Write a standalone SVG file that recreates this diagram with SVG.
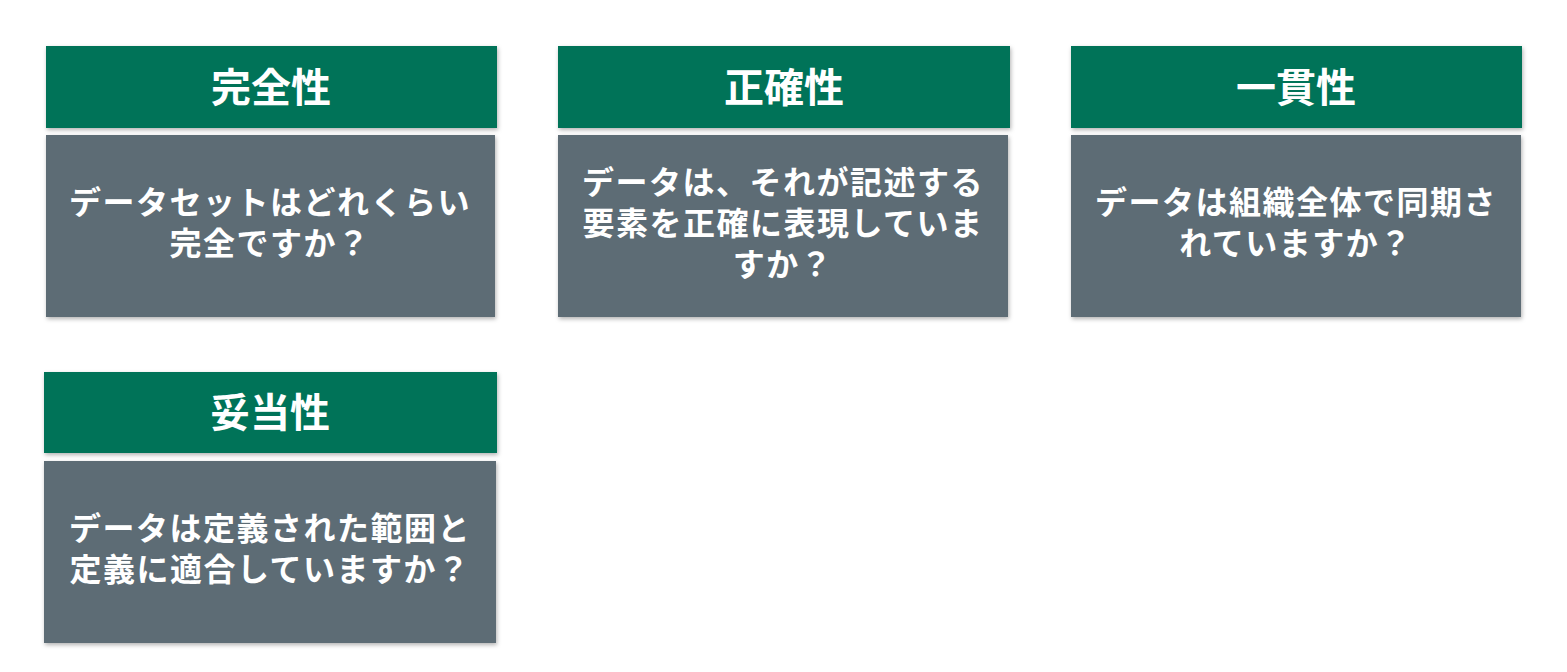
<svg xmlns="http://www.w3.org/2000/svg" width="1567" height="672" viewBox="0 0 1567 672">
<defs>
<style>
.h{fill:#037358}
.b{fill:#5d6c74}
.ht{font-family:"Noto Sans CJK JP","Noto Sans",sans-serif;font-weight:bold;font-size:40px;fill:#fff;text-anchor:middle}
.bt{font-family:"Noto Sans CJK JP","Noto Sans",sans-serif;font-weight:bold;font-size:32px;letter-spacing:1.5px;fill:#fff;text-anchor:middle}
</style>
<filter id="s" x="-5%" y="-5%" width="110%" height="115%"><feDropShadow dx="1" dy="2" stdDeviation="2" flood-color="#000" flood-opacity="0.3"/></filter>
</defs>
<rect width="1567" height="672" fill="#fff"/>
<g id="n1">
<rect class="h" x="46" y="46" width="451" height="82" filter="url(#s)"/>
<text class="ht" x="271" y="102">完全性</text>
<rect class="b" x="46" y="135" width="449" height="182" filter="url(#s)"/>
<text class="bt" x="270" y="214">データセットはどれくらい</text>
<text class="bt" x="270" y="255">完全ですか？</text>
</g>
<g id="n2">
<rect class="h" x="558" y="46" width="452" height="82" filter="url(#s)"/>
<text class="ht" x="784" y="102">正確性</text>
<rect class="b" x="558" y="135" width="450" height="182" filter="url(#s)"/>
<text class="bt" x="783" y="194">データは、それが記述する</text>
<text class="bt" x="783" y="235">要素を正確に表現していま</text>
<text class="bt" x="783" y="276">すか？</text>
</g>
<g id="n3">
<rect class="h" x="1071" y="46" width="451" height="82" filter="url(#s)"/>
<text class="ht" x="1296" y="102">一貫性</text>
<rect class="b" x="1071" y="135" width="450" height="182" filter="url(#s)"/>
<text class="bt" x="1296" y="214">データは組織全体で同期さ</text>
<text class="bt" x="1296" y="255">れていますか？</text>
</g>
<g id="n4">
<rect class="h" x="44" y="372" width="453" height="81" filter="url(#s)"/>
<text class="ht" x="270" y="427">妥当性</text>
<rect class="b" x="44" y="461" width="452" height="182" filter="url(#s)"/>
<text class="bt" x="270" y="540">データは定義された範囲と</text>
<text class="bt" x="270" y="581">定義に適合していますか？</text>
</g>
<g id="connectors"/>
</svg>
